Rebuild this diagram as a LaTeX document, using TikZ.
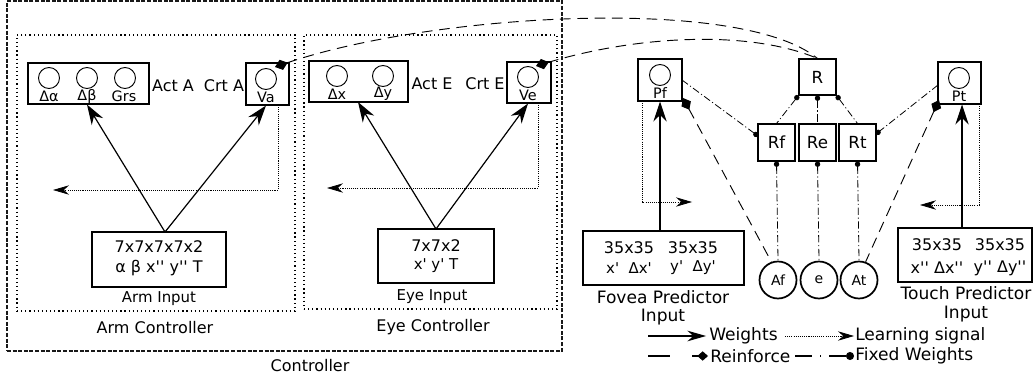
\documentclass[tikz,border=0pt]{standalone}
\usepackage{fontspec}
\setmainfont{DejaVu Sans}[Ligatures=TeXOff]
\usetikzlibrary{arrows.meta}
\tikzset{
  sz/.style 2 args={minimum width=#1*0.75pt, minimum height=#2*0.75pt},
  boxn/.style={draw, line width=0.8pt, inner sep=0pt, rectangle},
  unit/.style={draw, circle, line width=0.7pt, minimum size=21*0.75pt, inner sep=0pt},
  outc/.style={draw, circle, line width=1.3pt, minimum size=37*0.75pt, inner sep=0pt, font=\fontsize{10.5}{12}\selectfont},
  dotbox/.style={draw, line width=0.9pt, dash pattern=on 0.9pt off 2.2pt, inner sep=0pt},
  ctrlbox/.style={draw=black!90, line width=0.8pt, dash pattern=on 3pt off 1.2pt, inner sep=0pt},
  tl/.style={inner sep=0pt, font=\fontsize{12}{14}\selectfont},
  ts/.style={inner sep=0pt, font=\fontsize{10.8}{12}\selectfont},
  tm/.style={inner sep=0pt, font=\fontsize{11.2}{13}\selectfont},
  tb/.style={inner sep=0pt, font=\fontsize{12.8}{15}\selectfont},
  wt/.style={line width=0.9pt, -{Stealth[length=15pt,width=10pt]}},
  ls/.style={line width=0.6pt, dash pattern=on 0.8pt off 0.8pt, -{Stealth[length=12pt,width=7pt]}},
  rein/.style={line width=0.7pt, dash pattern=on 8pt off 5pt},
  dtip/.style={{Diamond[length=10pt,width=8pt]}-},
  fw/.style={line width=0.6pt, dash pattern=on 5.5pt off 2pt on 0.8pt off 2pt},
  fwtip/.style={{Circle[length=4pt]}-},
}
\begin{document}
\begin{tikzpicture}[x=0.75pt,y=-0.75pt]
\useasboundingbox (0,0) rectangle (1034,377);

% ---------- Controller frames ----------
\node[ctrlbox, sz={555}{350}] (ctrl) at (284.5,176) {};
\node[tl] (ctrlL) at (310,366) {Controller};
\node[dotbox, sz={278}{276}] (armC) at (156,173) {};
\node[tl] (armCL) at (155,328) {Arm Controller};
\node[dotbox, sz={253}{274}] (eyeC) at (430.5,172) {};
\node[tl] (eyeCL) at (433,327) {Eye Controller};

% ---------- Arm controller ----------
\node[boxn, sz={121}{41}] (actA) at (88.5,83.5) {};
\node[unit] (a1) at (49,78) {};
\node[unit] (a2) at (87,78) {};
\node[unit] (a3) at (125,78) {};
\node[ts] (a1L) at (49,96) {Δα};
\node[ts] (a2L) at (87,96) {Δβ};
\node[ts] (a3L) at (124,96) {Grs};
\node[tl] (actAL) at (173,86) {Act A};
\node[tl] (crtAL) at (224,86) {Crt A};
\node[boxn, sz={43}{42}] (va) at (267.5,84) {};
\node[unit] (vac) at (266,79) {};
\node[ts] (vaL) at (266,97) {Va};
\node[boxn, sz={134}{55}] (armIn) at (159,259.5) {};
\node[tl] (armT1) at (159,247) {7x7x7x7x2};
\node[tl] (armT2) at (159,268) {α β x'' y'' T};
\node[tm] (armInL) at (159,299) {Arm Input};
\coordinate (armAp) at (165,232);
\draw[wt] (armAp) -- (a2 |- actA.south);
\draw[wt] (armAp) -- (vac |- va.south);
\coordinate (armLs0) at (278,105);
\coordinate (armLs) at (53,190);
\draw[ls] (armLs0) |- (armLs);

% ---------- Eye controller ----------
\node[boxn, sz={99}{41}] (actE) at (358.5,81.5) {};
\node[unit] (e1) at (337,76) {};
\node[unit] (e2) at (383,76) {};
\node[ts] (e1L) at (337,94) {Δx};
\node[ts] (e2L) at (383,94) {Δy};
\node[tl] (actEL) at (432,84) {Act E};
\node[tl] (crtEL) at (485,84) {Crt E};
\node[boxn, sz={44}{41}] (ve) at (529,82.5) {};
\node[unit] (vec) at (528,77) {};
\node[ts] (veL) at (528,95) {Ve};
\node[boxn, sz={116}{54}] (eyeIn) at (436,256) {};
\node[tl] (eyeT1) at (436,246) {7x7x2};
\node[tm] (eyeT2) at (436,266) {x' y' T};
\node[tm] (eyeInL) at (432,297) {Eye Input};
\coordinate (eyeAp) at (436,229);
\coordinate (eyeTg) at (358,102);
\draw[wt] (eyeAp) -- (eyeTg);
\draw[wt] (eyeAp) -- (vec |- ve.south);
\coordinate (eyeLs0) at (538,103);
\coordinate (eyeLs) at (327,188);
\draw[ls] (eyeLs0) |- (eyeLs);

% ---------- Reward structure ----------
\node[boxn, sz={37}{36}, font=\fontsize{12.5}{14}\selectfont] (R) at (817.5,77) {R};
\node[boxn, sz={37}{37}, font=\fontsize{12.5}{14}\selectfont] (rf) at (776.5,142.5) {Rf};
\node[boxn, sz={37}{37}, font=\fontsize{12.5}{14}\selectfont] (re) at (817.5,142.5) {Re};
\node[boxn, sz={37}{37}, font=\fontsize{12.5}{14}\selectfont] (rt) at (857.5,142.5) {Rt};
\node[outc] (af) at (778,280) {Af};
\node[outc] (ee) at (819,280) {e};
\node[outc] (at) at (859,280) {At};

% ---------- Predictors ----------
\node[boxn, sz={44}{42}] (pf) at (660,80) {};
\node[unit] (pfc) at (660,75) {};
\node[ts] (pfL) at (660,93) {Pf};
\node[boxn, sz={43}{42}] (pt) at (959.5,83) {};
\node[unit] (ptc) at (959,78) {};
\node[ts] (ptL) at (959,96) {Pt};

\node[boxn, sz={161}{54}] (fov) at (663.5,258) {};
\node[tl] (fovT1) at (629,248) {35x35};
\node[tl] (fovT2) at (693,248) {35x35};
\node[tm] (fovT3) at (629,268) {x'\ \ Δx'};
\node[tm] (fovT4) at (693,268) {y'\ \ Δy'};
\node[tb] (fovL1) at (663,297) {Fovea Predictor};
\node[tb] (fovL2) at (663,317) {Input};

\node[boxn, sz={134}{54}] (tch) at (965,255) {};
\node[tl] (tchT1) at (937,245) {35x35};
\node[tl] (tchT2) at (1000,245) {35x35};
\node[tl] (tchT3) at (937,268) {x'' Δx''};
\node[tl] (tchT4) at (1000,268) {y'' Δy''};
\node[tb] (tchL1) at (966,293) {Touch Predictor};
\node[tb] (tchL2) at (966,314) {Input};

\draw[wt] (fov.north -| pfc) -- (pf.south -| pfc);
\coordinate (pfLs0) at (642,101);
\coordinate (pfLs) at (692,202);
\draw[ls] (pfLs0) |- (pfLs);
\draw[wt] (tch.north -| 962,0) -- (pt.south -| 962,0);
\coordinate (ptLs0) at (979,104);
\coordinate (ptLs) at (920,205);
\draw[ls] (ptLs0) |- (ptLs);

% ---------- Fixed weights ----------
\draw[fw, fwtip] (R.south west) -- (rf.north);
\draw[fw, fwtip] (R.south) -- (re.north);
\draw[fw, fwtip] (R.south east) -- (rt.north);
\coordinate (pfR) at (682,80);
\coordinate (rfW) at (758,136);
\draw[fw, -{Circle[length=4pt]}] (pfR) -- (rfW);
\coordinate (ptW) at (938,85);
\coordinate (rtE) at (876,134);
\draw[fw, -{Circle[length=4pt]}] (ptW) -- (rtE);
\draw[fw, fwtip] (rf.south) -- (af.north);
\draw[fw, fwtip] (re.south) -- (ee.north);
\draw[fw, fwtip] (rt.south) -- (at.north);

% ---------- Reinforcement ----------
\coordinate (vaD) at (275,67);
\coordinate (veD) at (536,66);
\draw[rein, dtip] (vaD) .. controls (430,14) and (740,-5) .. (R.north);
\draw[rein, dtip] (veD) .. controls (640,35) and (750,30) .. (R.north);
\coordinate (pfD) at (683,98);
\coordinate (ptD) at (939,100);
\draw[rein, dtip] (pfD) -- (af.110);
\draw[rein, dtip] (ptD) -- (at.70);

% ---------- Legend ----------
\coordinate (l1a) at (648,336);
\coordinate (l1b) at (706,336);
\draw[line width=0.9pt, -{Stealth[length=14pt,width=8pt]}] (l1a) -- (l1b);
\node[tb, anchor=west] (lgW) at (709,336) {Weights};
\coordinate (l2a) at (785,336);
\coordinate (l2b) at (854,336);
\draw[line width=0.6pt, dash pattern=on 0.8pt off 0.8pt, -{Stealth[length=12pt,width=7pt]}] (l2a) -- (l2b);
\node[tb, anchor=west] (lgL) at (855,336) {Learning signal};
\coordinate (l3a) at (648,356);
\coordinate (l3b) at (708,356);
\draw[line width=0.8pt, dash pattern=on 16.5pt off 16.5pt, -{Diamond[length=8pt,width=7pt]}] (l3a) -- (l3b);
\node[tb, anchor=west] (lgR) at (710,356) {Reinforce};
\coordinate (l4a) at (795,356);
\coordinate (l4b) at (854,356);
\draw[line width=0.8pt, dash pattern=on 12.75pt off 6pt on 0.75pt off 6pt, -{Circle[length=6pt]}] (l4a) -- (l4b);
\node[tb, anchor=west] (lgF) at (855,356) {Fixed Weights};
\end{tikzpicture}
\end{document}
